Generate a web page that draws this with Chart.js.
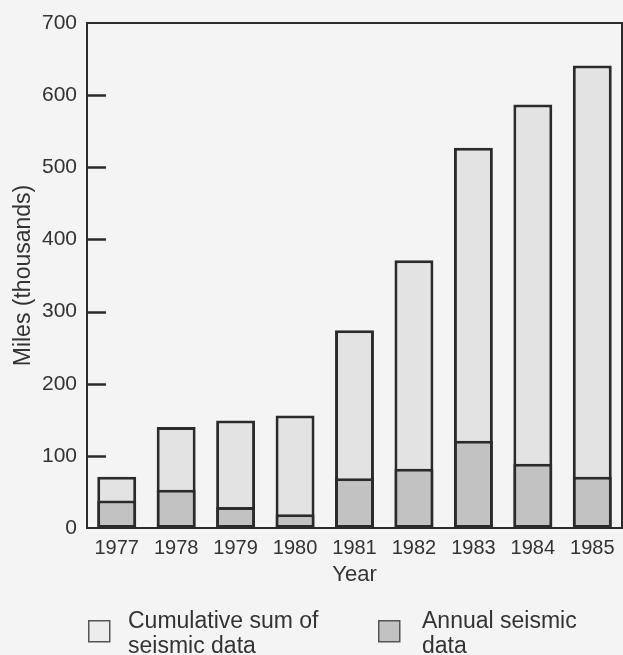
<!DOCTYPE html>
<html>
<head>
<meta charset="utf-8">
<script src="https://cdn.jsdelivr.net/npm/chart.js@4"></script>
<style>
  html, body { margin: 0; padding: 0; background: #f4f4f4; }
  #wrap { position: relative; width: 623px; height: 655px; }
</style>
</head>
<body>
<div id="wrap"><canvas id="seismicChart"></canvas></div>
<script>
// values (thousands of miles)
const years = ['1977', '1978', '1979', '1980', '1981', '1982', '1983', '1984', '1985'];
const cumulativeMiles = [71, 140, 149, 156, 274, 371, 527, 587, 641];
const annualMiles = [38, 53, 29, 19, 69, 82, 121, 89, 71];
const yTicks = [0, 100, 200, 300, 400, 500, 600, 700];
const legendLabels = [['Cumulative sum of', 'seismic data'], ['Annual seismic', 'data']];

const ink = '#2b2b2b';
const textColor = '#333';
const fontFamily = '"Liberation Sans", Arial, sans-serif';

// frame on top/right + inward tick marks on the y axis
const framePlugin = {
    id: 'frame',
    afterDatasetsDraw(chart) {
        const { ctx, chartArea: a, scales: { y } } = chart;
        ctx.save();
        ctx.strokeStyle = ink;
        ctx.lineWidth = 2;
        ctx.beginPath();
        ctx.moveTo(a.left, a.top);
        ctx.lineTo(a.right, a.top);
        ctx.lineTo(a.right, a.bottom);
        ctx.stroke();

        ctx.lineWidth = 2.5;
        yTicks.forEach(v => {
            if (v === 0 || v === 700) return;
            const py = Math.round(y.getPixelForValue(v)) + 0.5;
            ctx.beginPath();
            ctx.moveTo(a.left, py);
            ctx.lineTo(a.left + 19, py);
            ctx.stroke();
        });
        ctx.restore();
    }
};

// two-line legend below the x axis title
const legendPlugin = {
    id: 'twoLineLegend',
    afterDraw(chart) {
        const { ctx } = chart;
        const spots = [{ box: 88, text: 128 }, { box: 378, text: 422 }];
        ctx.save();
        ctx.font = '23px ' + fontFamily;
        ctx.textBaseline = 'alphabetic';
        chart.data.datasets.forEach((ds, i) => {
            const s = spots[i];
            ctx.fillStyle = i === 0 ? '#ececec' : ds.backgroundColor;
            ctx.fillRect(s.box, 620, 22, 22);
            ctx.strokeStyle = '#555';
            ctx.lineWidth = 1.5;
            ctx.strokeRect(s.box + 0.75, 620.75, 21, 21);
            ctx.fillStyle = textColor;
            legendLabels[i].forEach((line, j) => {
                ctx.fillText(line, s.text, 628 + j * 25);
            });
        });
        ctx.restore();
    }
};

const ctx = document.getElementById('seismicChart').getContext('2d');

new Chart(ctx, {
    type: 'bar',
    data: {
        labels: years,
        datasets: [
            {
                label: legendLabels[0].join(' '),
                data: cumulativeMiles,
                backgroundColor: '#e3e3e3',
                borderColor: ink,
                borderWidth: 3,
                borderSkipped: false,
                order: 2
            },
            {
                label: legendLabels[1].join(' '),
                data: annualMiles,
                backgroundColor: '#c2c2c2',
                borderColor: ink,
                borderWidth: 3,
                borderSkipped: false,
                order: 1
            }
        ]
    },
    options: {
        responsive: true,
        maintainAspectRatio: false,
        animation: false,
        layout: { padding: { top: 23, right: 1, left: 0, bottom: 67 } },
        datasets: {
            bar: { grouped: false, categoryPercentage: 1, barPercentage: 0.655 }
        },
        font: { family: fontFamily, size: 20 },
        color: textColor,
        scales: {
            x: {
                grid: { display: false },
                border: { display: true, color: ink, width: 2 },
                ticks: { color: textColor, padding: 0, maxRotation: 0, font: { size: 20 } },
                title: { display: true, text: 'Year', color: textColor, font: { size: 22 }, padding: { top: 0, bottom: 0 } },
                afterFit(scale) { scale.height = 60; }
            },
            y: {
                min: 0,
                max: 700,
                grid: { display: false, drawTicks: false },
                border: { display: true, color: ink, width: 2 },
                ticks: {
                    stepSize: 100,
                    padding: 10,
                    color: textColor,
                    font: { size: 21 }
                },
                afterBuildTicks(scale) { scale.ticks = yTicks.map(v => ({ value: v })); },
                title: { display: true, text: 'Miles (thousands)', color: textColor, font: { size: 23 }, padding: { top: 10, bottom: 0 } },
                afterFit(scale) { scale.width = 87; }
            }
        },
        plugins: {
            legend: { display: false },
            tooltip: { enabled: false }
        }
    },
    plugins: [framePlugin, legendPlugin]
});
</script>
</body>
</html>
